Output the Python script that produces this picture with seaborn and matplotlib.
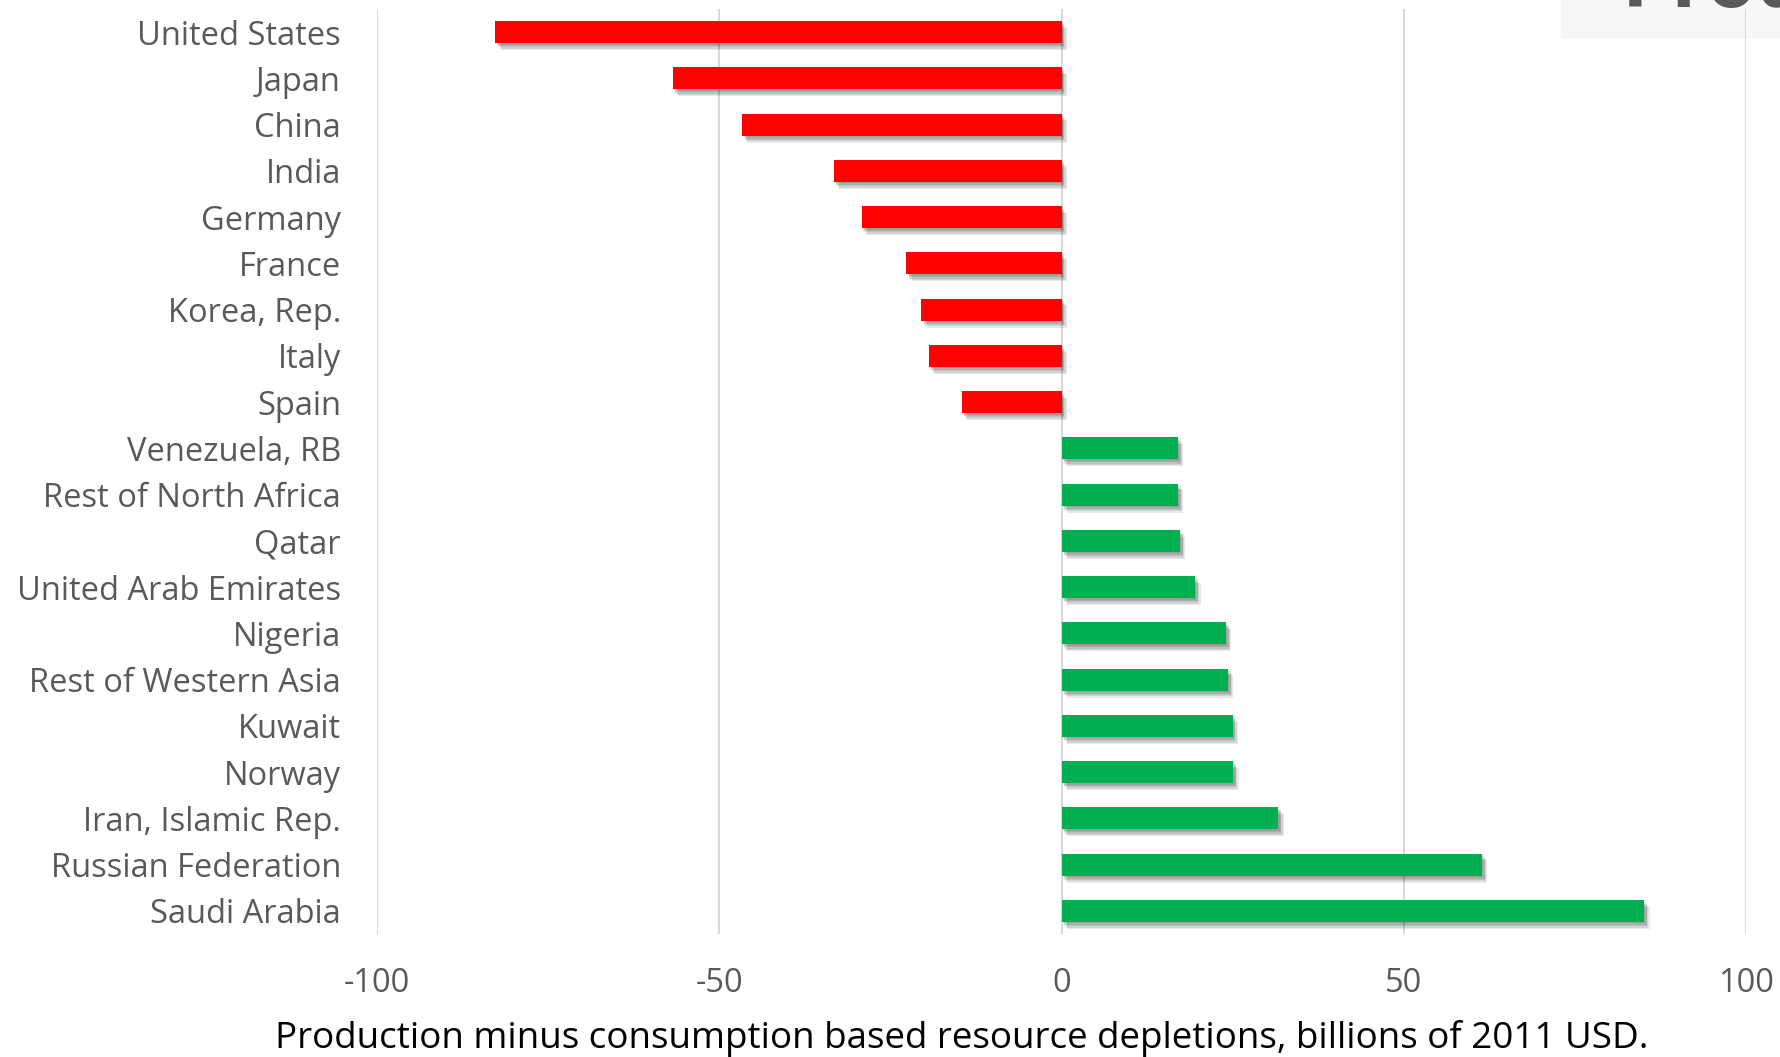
import matplotlib
matplotlib.use("Agg")
import matplotlib.pyplot as plt
import matplotlib.patheffects as pe
from matplotlib.patches import Rectangle
import seaborn as sns
import pandas as pd

countries = [
    "United States", "Japan", "China", "India", "Germany", "France",
    "Korea, Rep.", "Italy", "Spain", "Venezuela, RB", "Rest of North Africa",
    "Qatar", "United Arab Emirates", "Nigeria", "Rest of Western Asia",
    "Kuwait", "Norway", "Iran, Islamic Rep.", "Russian Federation", "Saudi Arabia",
]
values = [
    -82.7, -56.8, -46.7, -33.3, -29.2, -22.7, -20.5, -19.4, -14.6,
    17.0, 17.0, 17.3, 19.5, 24.0, 24.3, 25.0, 25.1, 31.7, 61.4, 85.1,
]
x_ticks = [-100, -50, 0, 50, 100]
x_label = "Production minus consumption based resource depletions, billions of 2011 USD."
title_text = "Production"

df = pd.DataFrame({"country": countries, "value": values})
df["side"] = ["net consumer" if v < 0 else "net producer" for v in df["value"]]

sns.set_theme(style="white")
plt.rcParams["font.family"] = ["Open Sans", "DejaVu Sans"]

fig = plt.figure(figsize=(17.8, 10.57), dpi=100)
fig.patch.set_facecolor("white")
ax = fig.add_axes([377 / 1780, 1 - 934 / 1057, (1746 - 377) / 1780, (934 - 9) / 1057])
ax.patch.set_alpha(0)

sns.barplot(
    data=df, y="country", x="value", hue="side",
    palette={"net consumer": "#FF0000", "net producer": "#00B050"},
    dodge=False, legend=False, width=0.48, saturation=1, ax=ax,
)

# soft drop shadow under each bar
shadow = [pe.SimplePatchShadow(offset=o, shadow_rgbFace="black", alpha=0.09)
          for o in [(1, -1), (2, -2), (2, -3), (3, -4), (4, -5)]]
for bar in ax.patches:
    bar.set_edgecolor("none")
    bar.set_path_effects(shadow + [pe.Normal()])

ax.set_xlim(-100, 100)
ax.set_xticks(x_ticks)
ax.set_xticklabels([str(t) for t in x_ticks])
ax.grid(axis="x", color="#d9d9d9", linewidth=1.5)
ax.grid(axis="y", visible=False)
ax.set_axisbelow(True)
for s in ax.spines.values():
    s.set_visible(False)
ax.tick_params(axis="y", length=0, pad=26, labelsize=23.5, labelcolor="#595959")
ax.tick_params(axis="x", length=0, pad=24, labelsize=23.5, labelcolor="#595959")
ax.set_ylabel("")
ax.set_xlabel(x_label, fontsize=26.5, color="black")
ax.xaxis.label.set_verticalalignment("center")
ax.xaxis.set_label_coords(0.427, -0.113)

# partially visible chart title box in the top-right corner
fig.patches.append(Rectangle((1561 / 1780, 1 - 39 / 1057), 1, 1, transform=fig.transFigure,
                             facecolor="#f7f7f7", edgecolor="none", zorder=-1))
fig.text(1622 / 1780, 1 - 7 / 1057, title_text, fontsize=58, fontweight="bold",
         color="#595959", ha="left", va="baseline", zorder=-0.5)

fig.savefig("out.png", dpi=100)
